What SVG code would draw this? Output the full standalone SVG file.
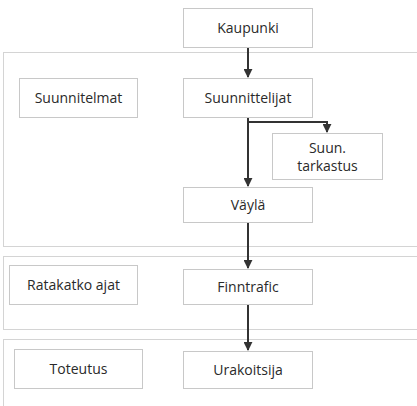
<svg xmlns="http://www.w3.org/2000/svg" width="417" height="406" viewBox="0 0 417 406">
<defs>
<marker id="ah" viewBox="0 0 10 10" refX="9" refY="5" markerWidth="4.5" markerHeight="4.5" orient="auto" markerUnits="strokeWidth"><path d="M0,0 L10,5 L0,10 Z" fill="#333"/></marker>
<style>
.lane{fill:#fff;stroke:#d4d4d4;stroke-width:1}
.box{fill:#fff;stroke:#c8c8c8;stroke-width:1}
.t{font-family:"Open Sans","Noto Sans",sans-serif;font-size:14px;fill:#2a2a2a;text-anchor:middle}
.c{fill:none;stroke:#333;stroke-width:2}
</style>
</defs>
<rect width="417" height="406" fill="#fff"/>
<g id="lanes">
<rect class="lane" x="3.5" y="52.5" width="420" height="194"/>
<rect class="lane" x="3.5" y="256.5" width="420" height="73"/>
<rect class="lane" x="3.5" y="339.5" width="420" height="80"/>
</g>
<g id="kaupunki"><rect class="box" x="183.5" y="8.5" width="129" height="39"/><text class="t" x="248" y="33">Kaupunki</text></g>
<g id="suunnitelmat"><rect class="box" x="19.5" y="78.5" width="118" height="39"/><text class="t" x="78.5" y="103">Suunnitelmat</text></g>
<g id="suunnittelijat"><rect class="box" x="183.5" y="78.5" width="129" height="39"/><text class="t" x="248" y="103">Suunnittelijat</text></g>
<g id="tarkastus"><rect class="box" x="272.5" y="133.5" width="110" height="46"/><text class="t" x="327.5" y="152.5">Suun.</text><text class="t" x="327.5" y="171">tarkastus</text></g>
<g id="vayla"><rect class="box" x="183.5" y="187.5" width="129" height="35"/><text class="t" x="248" y="210">Väylä</text></g>
<g id="ratakatko"><rect class="box" x="9.5" y="265.5" width="128" height="39"/><text class="t" x="73.5" y="290">Ratakatko ajat</text></g>
<g id="finntrafic"><rect class="box" x="183.5" y="269.5" width="129" height="35"/><text class="t" x="248" y="292">Finntrafic</text></g>
<g id="toteutus"><rect class="box" x="14.5" y="349.5" width="128" height="39"/><text class="t" x="78.5" y="374">Toteutus</text></g>
<g id="urakoitsija"><rect class="box" x="183.5" y="351.5" width="129" height="37"/><text class="t" x="248" y="375">Urakoitsija</text></g>
<g id="connectors">
<path class="c" d="M248,48 V77" marker-end="url(#ah)"/>
<path class="c" d="M248,118 V186" marker-end="url(#ah)"/>
<path class="c" d="M248,122 H327 V132" marker-end="url(#ah)"/>
<path class="c" d="M248,223 V268" marker-end="url(#ah)"/>
<path class="c" d="M248,305 V350" marker-end="url(#ah)"/>
</g>
</svg>
